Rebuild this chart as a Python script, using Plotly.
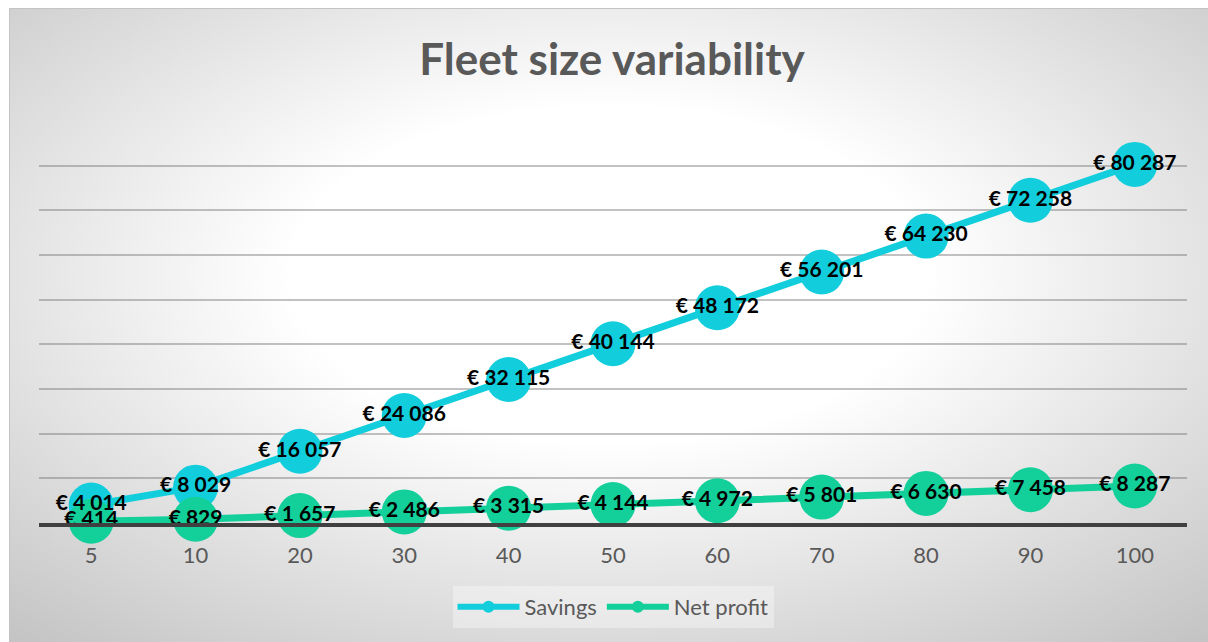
import base64
import plotly.graph_objects as go

# ---- data ----
fleet_sizes = ["5", "10", "20", "30", "40", "50", "60", "70", "80", "90", "100"]
savings = [4014, 8029, 16057, 24086, 32115, 40144, 48172, 56201, 64230, 72258, 80287]
net_profit = [414, 829, 1657, 2486, 3315, 4144, 4972, 5801, 6630, 7458, 8287]
series_names = ["Savings", "Net profit"]
title_text = "Fleet size variability"


def eur(v):
    return "€ " + f"{v:,}".replace(",", " ")


W, H = 1208, 642
CYAN = "#12CEDC"
GREEN = "#13CF9A"
FONT = "Lato, Carlito, Calibri, sans-serif"

# radial-gradient background (chart area)
svg = f"""<svg xmlns='http://www.w3.org/2000/svg' width='{W}' height='{H}' viewBox='0 0 {W} {H}'>
<defs><radialGradient id='g' cx='0.5' cy='0.42' r='0.8'>
<stop offset='0' stop-color='#ffffff'/><stop offset='0.33' stop-color='#ffffff'/>
<stop offset='1' stop-color='#bfbfbf'/></radialGradient></defs>
<rect x='0' y='0' width='{W}' height='{H}' fill='#ffffff'/>
<rect x='9.5' y='8.5' width='{W-9}' height='{H-8}' fill='url(#g)' stroke='#c4c4c4' stroke-width='1'/>
</svg>"""
src = "data:image/svg+xml;base64," + base64.b64encode(svg.encode()).decode()

series = [(series_names[0], savings, CYAN), (series_names[1], net_profit, GREEN)]

fig = go.Figure()
# lines + markers first
for name, vals, col in series:
    fig.add_trace(go.Scatter(
        x=fleet_sizes, y=vals, name=name, mode="lines+markers",
        line=dict(color=col, width=7), marker=dict(color=col, size=45),
        cliponaxis=False, showlegend=False))
# data labels on top of all markers
for name, vals, col in series:
    fig.add_trace(go.Scatter(
        x=fleet_sizes, y=vals, name=name, mode="text",
        text=[eur(v) for v in vals], textposition="middle center",
        textfont=dict(family=FONT, size=21, color="#000000", weight="bold"),
        cliponaxis=False, showlegend=False, hoverinfo="skip"))
# legend entries
for name, vals, col in series:
    fig.add_trace(go.Scatter(
        x=[None], y=[None], name=name, mode="lines+markers",
        line=dict(color=col, width=6), marker=dict(color=col, size=12),
        showlegend=True))

x0, x1 = 39 / W, 1187 / W
y0, y1 = (H - 523) / H, (H - 121) / H

fig.update_layout(
    width=W, height=H,
    margin=dict(l=0, r=0, t=0, b=0),
    paper_bgcolor="rgba(0,0,0,0)", plot_bgcolor="rgba(0,0,0,0)",
    images=[dict(source=src, xref="paper", yref="paper", x=0, y=1, sizex=1, sizey=1,
                 xanchor="left", yanchor="top", sizing="stretch", layer="below")],
    title=dict(text=f"<b>{title_text}</b>", x=612 / W, xanchor="center", y=1 - 60 / H, yanchor="middle",
               font=dict(family=FONT, size=44, color="#595959")),
    xaxis=dict(domain=[x0, x1], type="category", range=[-0.5, 10.5], showgrid=False, showline=True,
               linecolor="#404040", linewidth=4, ticks="", ticklabelstandoff=10,
               tickfont=dict(family=FONT, size=22, color="#595959"), zeroline=False,
               fixedrange=True),
    yaxis=dict(domain=[y0, y1], range=[0, 90000], dtick=10000, showticklabels=False,
               showgrid=True, gridcolor="rgba(110,110,110,0.42)", gridwidth=1.5,
               zeroline=False, showline=False, fixedrange=True),
    legend=dict(orientation="h", x=613 / W, xanchor="center", y=1 - 607 / H, yanchor="middle",
                bgcolor="rgba(255,255,255,0.35)", itemwidth=62,
                font=dict(family=FONT, size=22, color="#595959")),
    showlegend=True,
)

fig.write_html("out.html")
